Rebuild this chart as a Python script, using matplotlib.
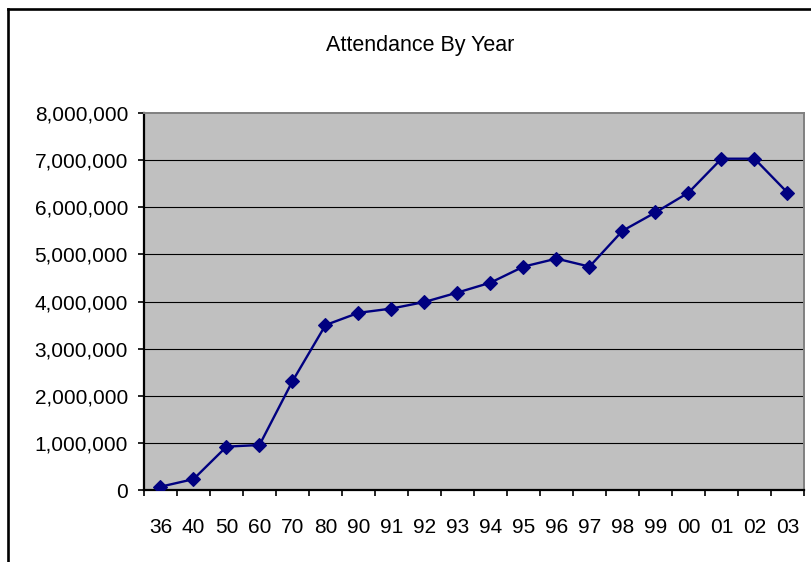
import matplotlib
matplotlib.use("Agg")
import matplotlib.pyplot as plt
from matplotlib.ticker import FuncFormatter, FixedLocator
from matplotlib.lines import Line2D

# Attendance per year (two-digit year labels)
years = ["36", "40", "50", "60", "70", "80", "90", "91", "92", "93",
         "94", "95", "96", "97", "98", "99", "00", "01", "02", "03"]
attendance = [70000, 230000, 920000, 955000, 2310000, 3500000, 3760000,
              3850000, 3990000, 4190000, 4400000, 4740000, 4910000,
              4740000, 5500000, 5890000, 6310000, 7030000, 7030000, 6310000]
y_ticks = [0, 1000000, 2000000, 3000000, 4000000, 5000000, 6000000,
           7000000, 8000000]

plt.rcParams["font.family"] = ["Liberation Sans", "DejaVu Sans"]

W, H = 812, 562
fig = plt.figure(figsize=(W / 100, H / 100), dpi=100)
fig.patch.set_facecolor("white")

# chart frame (left and top edges)
fig.add_artist(Line2D([8 / W, 8 / W], [0, 1 - 9 / H], color="black",
                      lw=1.9, transform=fig.transFigure))
fig.add_artist(Line2D([8 / W, 1], [1 - 9 / H, 1 - 9 / H], color="black",
                      lw=1.9, transform=fig.transFigure))

left, right, top, bottom = 144, 804, 113, 490
ax = fig.add_axes([left / W, 1 - bottom / H, (right - left) / W,
                   (bottom - top) / H])
ax.set_facecolor("#C0C0C0")

x = [i + 0.5 for i in range(len(years))]
ax.plot(x, attendance, color="#000080", lw=1.7, marker="D", ms=7.2,
        mfc="#000080", mec="#000080", mew=0.8, zorder=3)

ax.set_xlim(0, len(years))
ax.set_ylim(y_ticks[0], y_ticks[-1])

# horizontal gridlines
for v in y_ticks[1:-1]:
    ax.axhline(v, color="black", lw=0.8, zorder=1)

ax.set_yticks(y_ticks)
ax.yaxis.set_major_formatter(FuncFormatter(lambda v, p: f"{int(v):,}"))
ax.tick_params(axis="y", direction="out", length=4.5, width=1.2,
               labelsize=15, pad=7, colors="black")

ax.xaxis.set_major_locator(FixedLocator(range(len(years) + 1)))
ax.xaxis.set_minor_locator(FixedLocator(x))
ax.set_xticklabels([])
ax.set_xticklabels(years, minor=True)
ax.tick_params(axis="x", which="major", direction="out", length=4.5,
               width=1.2)
ax.tick_params(axis="x", which="minor", length=0, labelsize=15, pad=20)

for side in ("left", "bottom"):
    ax.spines[side].set_color("black")
    ax.spines[side].set_linewidth(1.6)
for side in ("top", "right"):
    ax.spines[side].set_color("#808080")
    ax.spines[side].set_linewidth(1.4)

fig.text(420 / W, 1 - 45 / H, "Attendance By Year", ha="center",
         va="center", fontsize=15.5)

fig.savefig("out.png", dpi=100)
